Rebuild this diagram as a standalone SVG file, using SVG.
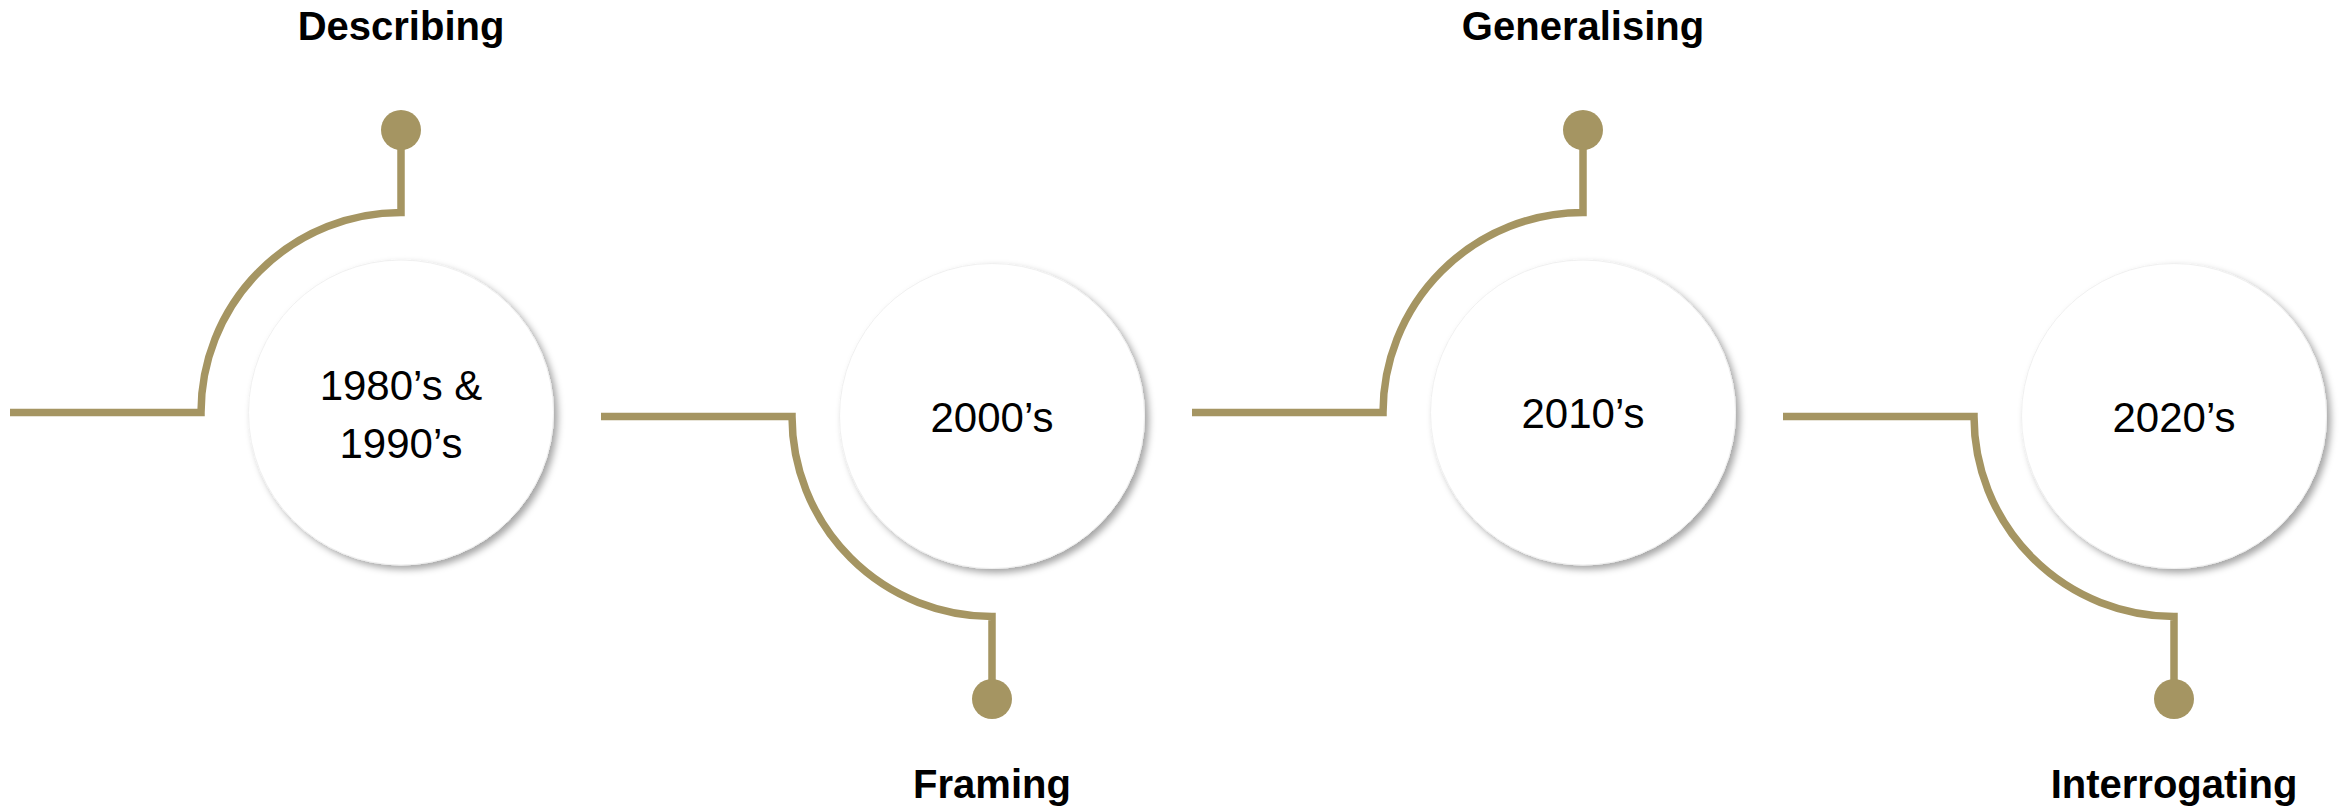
<svg xmlns="http://www.w3.org/2000/svg" width="2343" height="811" viewBox="0 0 2343 811">
  <defs>
    <filter id="shadow" x="-20%" y="-20%" width="145%" height="145%">
      <feDropShadow dx="4" dy="4" stdDeviation="3.5" flood-color="#000" flood-opacity="0.35"/>
    </filter>
  </defs>
  <style>
    .wire { fill: none; stroke: #A59562; stroke-width: 7.5; stroke-linejoin: miter; }
    .dot { fill: #A59562; }
    .disc { fill: #FFFFFF; stroke: #F0F0F0; stroke-width: 1; filter: url(#shadow); }
    .era { font-family: "Liberation Sans", Arial, sans-serif; font-size: 42px; fill: #000; text-anchor: middle; }
    .stage { font-family: "Liberation Sans", Arial, sans-serif; font-size: 40px; font-weight: bold; fill: #000; text-anchor: middle; }
  </style>
  <rect width="2343" height="811" fill="#FFFFFF"/>

  <g id="connectors">
    <path class="wire" d="M 10 412.5 H 201 A 200 200 0 0 1 401 212.5 V 130"/>
    <circle class="dot" cx="401" cy="130" r="20"/>
    <path class="wire" d="M 601 416.5 H 792 A 200 200 0 0 0 992 616.5 V 699"/>
    <circle class="dot" cx="992" cy="699" r="20"/>
    <path class="wire" d="M 1192 412.5 H 1383 A 200 200 0 0 1 1583 212.5 V 130"/>
    <circle class="dot" cx="1583" cy="130" r="20"/>
    <path class="wire" d="M 1783 416.5 H 1974 A 200 200 0 0 0 2174 616.5 V 699"/>
    <circle class="dot" cx="2174" cy="699" r="20"/>
  </g>

  <g id="node-1980s">
    <circle class="disc" cx="401" cy="412.5" r="152.5"/>
    <text class="era" x="401" y="400">1980’s &amp;</text>
    <text class="era" x="401" y="458">1990’s</text>
  </g>
  <g id="node-2000s">
    <circle class="disc" cx="992" cy="416" r="152.5"/>
    <text class="era" x="992" y="432">2000’s</text>
  </g>
  <g id="node-2010s">
    <circle class="disc" cx="1583" cy="412.5" r="152.5"/>
    <text class="era" x="1583" y="428">2010’s</text>
  </g>
  <g id="node-2020s">
    <circle class="disc" cx="2174" cy="416" r="152.5"/>
    <text class="era" x="2174" y="432">2020’s</text>
  </g>

  <g id="label-describing">
    <text class="stage" x="401" y="40">Describing</text>
  </g>
  <g id="label-framing">
    <text class="stage" x="992" y="798">Framing</text>
  </g>
  <g id="label-generalising">
    <text class="stage" x="1583" y="40">Generalising</text>
  </g>
  <g id="label-interrogating">
    <text class="stage" x="2174" y="798">Interrogating</text>
  </g>
</svg>
